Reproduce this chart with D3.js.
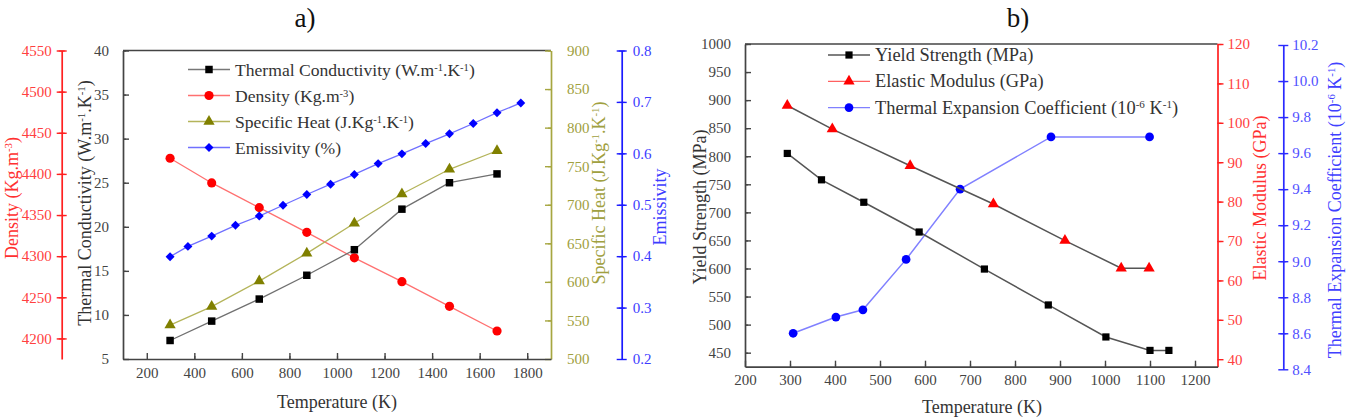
<!DOCTYPE html>
<html>
<head>
<meta charset="utf-8">
<script src="https://cdn.jsdelivr.net/npm/d3@7"></script>
<style>
  body { margin: 0; background: #fff; }
  svg { display: block; font-family: "Liberation Serif", "Times New Roman", serif; }
</style>
</head>
<body>
<div id="chart"></div>
<script>
// ---- panel a) data ----
const tempA = [298, 473, 673, 873, 1073, 1273, 1473, 1673];
const thermalCond = [7.1, 9.3, 11.8, 14.5, 17.4, 22.0, 25.0, 26.0];
const density = [4419, 4389, 4359, 4329, 4298, 4269, 4239, 4209];
const specificHeat = [544, 568, 601, 637, 676, 714, 746, 770];
const tempEmis = [298, 373, 473, 573, 673, 773, 873, 973, 1073, 1173, 1273, 1373, 1473, 1573, 1673, 1773];
const emissivity = [0.399, 0.419, 0.439, 0.460, 0.478, 0.499, 0.520, 0.540, 0.559, 0.580, 0.599, 0.619, 0.638, 0.658, 0.679, 0.698];

// ---- panel b) data ----
const tempYS = [294, 370, 464, 587, 732, 874, 1002, 1100, 1142];
const yieldStrength = [805, 758, 718, 665, 599, 535, 478, 454, 454];
const tempEM = [294, 394, 567, 752, 911, 1036, 1098];
const elasticMod = [104.4, 98.4, 89.1, 79.4, 70.1, 63.1, 63.1];
const tempTEC = [307, 402, 462, 558, 678, 880, 1099];
const thermalExp = [8.60, 8.69, 8.73, 9.01, 9.40, 9.69, 9.69];

const width = 1348, height = 418;
const svg = d3.select("#chart").append("svg")
  .attr("width", width).attr("height", height);

const range = (a, b, s) => d3.range(Math.round(a / s), Math.round(b / s) + 1).map(k => +(k * s).toFixed(4));

// rich text: parts = [[text, sup?], ...]
function rich(sel, parts) {
  parts.forEach(([t, sup]) => {
    const ts = sel.append("tspan").text(t);
    if (sup) ts.attr("baseline-shift", "super").attr("font-size", "0.6em");
  });
  return sel;
}

function vAxis(g, scale, side, x, o) {
  const make = side === "left" ? d3.axisLeft : d3.axisRight;
  const major = g.append("g").attr("transform", `translate(${x},0)`)
    .call(make(scale).tickValues(o.major).tickFormat(o.fmt || d3.format(""))
      .tickSizeInner(o.size).tickSizeOuter(0).tickPadding(o.pad));
  major.attr("font-family", null).attr("font-size", 15);
  major.select(".domain").attr("stroke", o.color).attr("stroke-width", 1.7);
  major.selectAll(".tick line").attr("stroke", o.color).attr("stroke-width", 1.4);
  if (o.cross) major.selectAll(".tick line").attr("x1", side === "left" ? o.size : -o.size);
  major.selectAll(".tick text").attr("fill", o.text);
  const minor = g.append("g").attr("transform", `translate(${x},0)`)
    .call(make(scale).tickValues(o.minor).tickFormat("").tickSizeInner(o.msize).tickSizeOuter(0));
  minor.select(".domain").remove();
  minor.selectAll(".tick line").attr("stroke", o.color).attr("stroke-width", 1.2);
  if (o.cross) minor.selectAll(".tick line").attr("x1", side === "left" ? o.msize : -o.msize);
}

function hAxis(g, scale, y, o) {
  const major = g.append("g").attr("transform", `translate(0,${y})`)
    .call(d3.axisBottom(scale).tickValues(o.major).tickFormat(d3.format(""))
      .tickSizeInner(-6).tickSizeOuter(0).tickPadding(8));
  major.attr("font-family", null).attr("font-size", 15);
  major.select(".domain").attr("stroke", "#444").attr("stroke-width", 1.7);
  major.selectAll(".tick line").attr("stroke", "#444").attr("stroke-width", 1.4);
  major.selectAll(".tick text").attr("fill", "#444");
  const minor = g.append("g").attr("transform", `translate(0,${y})`)
    .call(d3.axisBottom(scale).tickValues(o.minor).tickFormat("").tickSizeInner(-3).tickSizeOuter(0));
  minor.select(".domain").remove();
  minor.selectAll(".tick line").attr("stroke", "#444").attr("stroke-width", 1.2);
}

function vLabel(g, x, y, color, parts) {
  rich(g.append("text").attr("transform", `translate(${x},${y}) rotate(-90)`)
    .attr("text-anchor", "middle").attr("font-size", 18).attr("fill", color), parts);
}

function series(g, xs, ys, xScale, yScale, o) {
  const pts = xs.map((t, i) => [xScale(t), yScale(ys[i])]);
  g.append("path").attr("d", d3.line()(pts))
    .attr("fill", "none").attr("stroke", o.line).attr("stroke-width", o.lw || 1.3);
  g.append("g").selectAll("path").data(pts).join("path")
    .attr("transform", d => `translate(${d[0]},${d[1]})` + (o.rot ? " rotate(45)" : ""))
    .attr("d", d3.symbol(o.sym, o.size)())
    .attr("fill", o.fill);
}

function legend(g, x, y0, step, items, w, fs) {
  items.forEach((it, i) => {
    const y = y0 + i * step;
    g.append("line").attr("x1", x).attr("x2", x + w).attr("y1", y).attr("y2", y)
      .attr("stroke", it.line).attr("stroke-width", 1.3);
    g.append("path").attr("transform", `translate(${x + w / 2},${y})` + (it.rot ? " rotate(45)" : ""))
      .attr("d", d3.symbol(it.sym, it.size)()).attr("fill", it.fill);
    rich(g.append("text").attr("x", x + w + 5).attr("y", y + 6)
      .attr("font-size", fs).attr("fill", "#333"), it.parts);
  });
}

// ================= panel a) =================
const ga = svg.append("g");
const xA = d3.scaleLinear().domain([100, 1900]).range([123, 551]);
const yTC = d3.scaleLinear().domain([5, 40]).range([359, 50.5]);
const yD = d3.scaleLinear().domain([4175, 4550]).range([359, 50.5]);
const ySH = d3.scaleLinear().domain([500, 900]).range([359, 50.5]);
const yE = d3.scaleLinear().domain([0.2, 0.8]).range([359, 50.5]);

ga.append("line").attr("x1", 123).attr("x2", 551).attr("y1", 50.5).attr("y2", 50.5)
  .attr("stroke", "#444").attr("stroke-width", 1.7);

vAxis(ga, yTC, "left", 123, { major: range(5, 40, 5), minor: range(7.5, 37.5, 5), size: -6, msize: -3, pad: 14, color: "#444", text: "#444" });
vAxis(ga, yD, "left", 61.7, { major: range(4200, 4550, 50), minor: range(4175, 4525, 50), size: 5, msize: 3, pad: 5, cross: true, color: "#ff2020", text: "#ff4040" });
vAxis(ga, ySH, "right", 551, { major: range(500, 900, 50), minor: range(525, 875, 50), size: -6, msize: -3, pad: 16, color: "#a6a640", text: "#a0a040" });
vAxis(ga, yE, "right", 621.7, { major: range(0.2, 0.8, 0.1), minor: range(0.25, 0.75, 0.1), size: 5, msize: 3, pad: 6, cross: true, fmt: d3.format(".1f"), color: "#1a1aff", text: "#3c3cff" });
hAxis(ga, xA, 359, { major: range(200, 1800, 200), minor: range(300, 1700, 200) });

series(ga, tempA, density, xA, yD, { line: "#ff7070", sym: d3.symbolCircle, size: 66, fill: "#ff0000" });
series(ga, tempA, specificHeat, xA, ySH, { line: "#b4b45a", sym: d3.symbolTriangle, size: 55, fill: "#808000" });
series(ga, tempEmis, emissivity, xA, yE, { line: "#7070ff", sym: d3.symbolSquare, size: 40, fill: "#0000ff", rot: true });
series(ga, tempA, thermalCond, xA, yTC, { line: "#707070", sym: d3.symbolSquare, size: 56, fill: "#000" });

legend(ga, 188, 69.5, 26, [
  { line: "#777", sym: d3.symbolSquare, size: 56, fill: "#000", parts: [["Thermal Conductivity (W.m"], ["-1", 1], [".K"], ["-1", 1], [")"]] },
  { line: "#ff7070", sym: d3.symbolCircle, size: 66, fill: "#ff0000", parts: [["Density (Kg.m"], ["-3", 1], [")"]] },
  { line: "#b4b45a", sym: d3.symbolTriangle, size: 55, fill: "#808000", parts: [["Specific Heat (J.Kg"], ["-1", 1], [".K"], ["-1", 1], [")"]] },
  { line: "#7070ff", sym: d3.symbolSquare, size: 40, fill: "#0000ff", rot: true, parts: [["Emissivity (%)"]] }
], 42, 17.6);

ga.append("text").attr("x", 337).attr("y", 408).attr("text-anchor", "middle")
  .attr("font-size", 18).attr("fill", "#333").text("Temperature (K)");
vLabel(ga, 91, 203, "#333", [["Thermal Conductivity (W.m"], ["-1", 1], [".K"], ["-1", 1], [")"]]);
vLabel(ga, 18, 198, "#ff3030", [["Density (Kg.m"], ["-3", 1], [")"]]);
vLabel(ga, 605, 193, "#a0a040", [["Specific Heat (J.Kg"], ["-1", 1], [".K"], ["-1", 1], [")"]]);
vLabel(ga, 666, 207, "#3c3cff", [["Emissivity"]]);
ga.append("text").attr("x", 305).attr("y", 27).attr("text-anchor", "middle")
  .attr("font-size", 27).attr("fill", "#111").text("a)");

// ================= panel b) =================
const gb = svg.append("g");
const xB = d3.scaleLinear().domain([200, 1250]).range([745, 1217.5]);
const yYS = d3.scaleLinear().domain([425, 1000]).range([366.7, 44]);
const yEM = d3.scaleLinear().domain([38.1, 120]).range([366.7, 44]);
const yTEC = d3.scaleLinear().domain([8.4, 10.2]).range([369.3, 45]);

gb.append("line").attr("x1", 745).attr("x2", 1217.5).attr("y1", 44).attr("y2", 44)
  .attr("stroke", "#444").attr("stroke-width", 1.7);

vAxis(gb, yYS, "left", 745, { major: range(450, 1000, 50), minor: range(425, 975, 50), size: -6, msize: -3, pad: 14, color: "#444", text: "#444" });
vAxis(gb, yEM, "right", 1217.5, { major: range(40, 120, 10), minor: range(45, 115, 10), size: 6, msize: 4, pad: 4, color: "#ff2020", text: "#ff4040" });
vAxis(gb, yTEC, "right", 1283.3, { major: range(8.4, 10.2, 0.2), minor: range(8.5, 10.1, 0.2), size: 5, msize: 3, pad: 4, cross: true, fmt: d3.format(".1f"), color: "#2a2aff", text: "#5050ff" });
hAxis(gb, xB, 366.7, { major: range(200, 1200, 100), minor: range(250, 1150, 100) });

series(gb, tempTEC, thermalExp, xB, yTEC, { line: "#8080ff", sym: d3.symbolCircle, size: 60, fill: "#0000ff", lw: 1.5 });
series(gb, tempEM, elasticMod, xB, yEM, { line: "#555", sym: d3.symbolTriangle, size: 55, fill: "#ff0000", lw: 1.5 });
series(gb, tempYS, yieldStrength, xB, yYS, { line: "#555", sym: d3.symbolSquare, size: 52, fill: "#000", lw: 1.5 });

legend(gb, 828, 55, 26.3, [
  { line: "#555", sym: d3.symbolSquare, size: 52, fill: "#000", parts: [["Yield Strength (MPa)"]] },
  { line: "#ff6060", sym: d3.symbolTriangle, size: 55, fill: "#ff0000", parts: [["Elastic Modulus (GPa)"]] },
  { line: "#8080ff", sym: d3.symbolCircle, size: 60, fill: "#0000ff", parts: [["Thermal Expansion Coefficient (10"], ["-6", 1], [" K"], ["-1", 1], [")"]] }
], 42, 18.4);

gb.append("text").attr("x", 982).attr("y", 413).attr("text-anchor", "middle")
  .attr("font-size", 18).attr("fill", "#333").text("Temperature (K)");
vLabel(gb, 706, 207, "#333", [["Yield Strength (MPa)"]]);
vLabel(gb, 1266, 198, "#ff3030", [["Elastic Modulus (GPa)"]]);
vLabel(gb, 1341, 210, "#4040ff", [["Thermal Expansion Coefficient (10"], ["-6", 1], [" K"], ["-1", 1], [")"]]);
gb.append("text").attr("x", 1018).attr("y", 27).attr("text-anchor", "middle")
  .attr("font-size", 27).attr("fill", "#111").text("b)");
</script>
</body>
</html>
